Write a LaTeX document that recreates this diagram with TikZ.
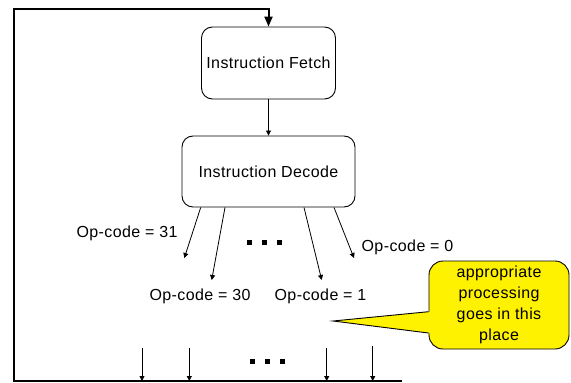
\documentclass[tikz,border=0pt]{standalone}
\usepackage{fontspec}
\setmainfont{Liberation Sans}[LetterSpace=2.5]
\usetikzlibrary{arrows.meta,calc}
\begin{document}
\begin{tikzpicture}[x=1pt,y=-1pt,
  txt/.style={font=\fontsize{16}{19}\selectfont},
  box/.style={draw,rounded corners=11pt,line width=0.9pt,minimum width=134pt,minimum height=72pt,inner sep=0pt,txt},
  arr/.style={line width=0.8pt,-{Triangle[length=5pt,width=5pt]}},
  loopline/.style={line width=2pt,-{Triangle[length=10pt,width=8pt]}},
  lbl/.style={inner sep=0pt,txt},
  dotrow/.style={inner sep=0pt},
  note/.style={draw,fill=yellow,rounded corners=14pt,line width=0.9pt,minimum width=140pt,minimum height=88pt,inner sep=0pt,align=center,font=\fontsize{16}{21}\selectfont}]
\useasboundingbox (0,0) rectangle (571,383);
% boxes
\node[box] (fetch) at (268.5,63) {Instruction Fetch};
\node[box,minimum width=173pt,minimum height=71pt] (decode) at (268.5,171.5) {Instruction Decode};
\draw[arr] (fetch) -- (decode);
% loop
\coordinate (bl) at (13.5,381);
\coordinate (br) at (402,381);
\coordinate (tl) at (13.5,9);
\draw[loopline] (br) -- (bl) -- (tl) -| (fetch.north);
% decode branches
\coordinate (e31) at (184.3,258);
\coordinate (e30) at (211.7,280);
\coordinate (e1) at (321.7,280);
\coordinate (e0) at (354,258);
\draw[arr] ($(decode.south)+(-67.8,0)$) -- (e31);
\draw[arr] ($(decode.south)+(-43.5,0)$) -- (e30);
\draw[arr] ($(decode.south)+(35.5,0)$) -- (e1);
\draw[arr] ($(decode.south)+(65.5,0)$) -- (e0);
% labels
\node[lbl] (op31) at (127,233) {Op-code = 31};
\node[lbl] (op0) at (407.5,247) {Op-code = 0};
\node[lbl] (op30) at (200,296) {Op-code = 30};
\node[lbl] (op1) at (320.5,296) {Op-code = 1};
% dots
\node[dotrow] (dots1) at (264.5,242) {\rule{5pt}{5pt}\hspace{10pt}\rule{5pt}{5pt}\hspace{10pt}\rule{5pt}{5pt}};
\node[dotrow] (dots2) at (267,361) {\rule{5pt}{5pt}\hspace{10pt}\rule{5pt}{5pt}\hspace{10pt}\rule{5pt}{5pt}};
% bottom arrows
\coordinate (s1) at (142,348);
\coordinate (s2) at (189.3,348);
\coordinate (s3) at (326.7,348);
\coordinate (s4) at (372.7,346);
\foreach \s in {s1,s2,s3,s4}{\draw[arr] (\s) -- (\s |- bl);}
% callout
\node[note] (note) at (499,305) {appropriate\\processing\\goes in this\\place};
\coordinate (tip) at (333,321);
\fill[yellow] ($(note.west)+(1.5,6.7)$) -- (tip) -- ($(note.west)+(1.5,28)$) -- cycle;
\draw[line width=0.9pt] ($(note.west)+(0,6.7)$) -- (tip) -- ($(note.west)+(0,28)$);
\end{tikzpicture}
\end{document}
